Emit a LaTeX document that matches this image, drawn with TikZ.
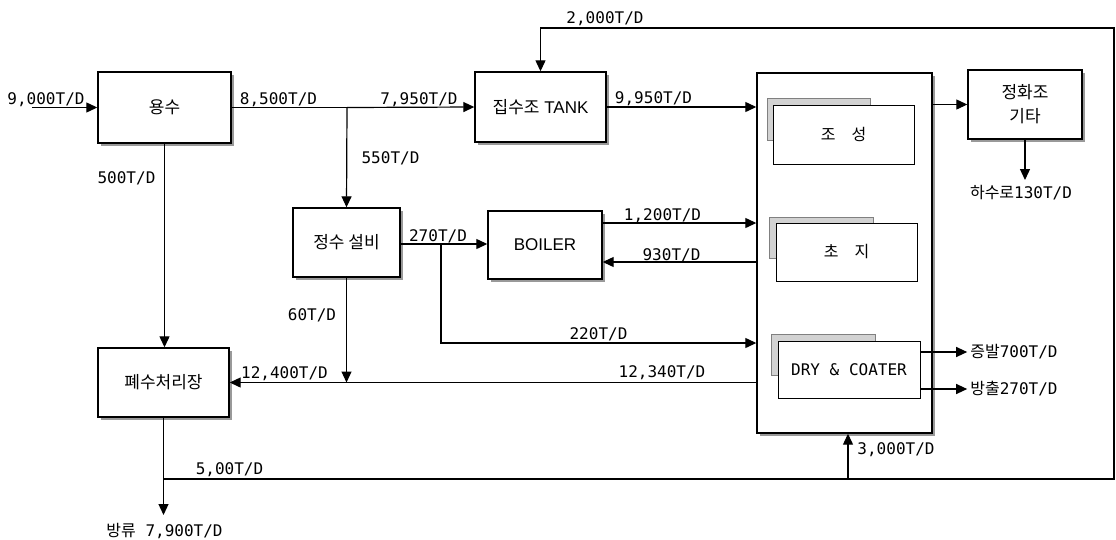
\documentclass[tikz,border=0pt]{standalone}
\usepackage{fontspec}
\setmainfont{Liberation Sans}
\setmonofont{DejaVu Sans Mono}
\newfontfamily\krfont{Noto Sans CJK KR}
\usetikzlibrary{arrows.meta, positioning, shadows}

\begin{document}
\begin{tikzpicture}[
    x=1pt, y=-1pt,
    comp/.style={rectangle, draw, line width=1.4pt, fill=white, inner sep=0pt, align=center,
        font=\fontsize{17}{24}\selectfont,
        general shadow={fill=gray!80, shadow xshift=3pt, shadow yshift=-3pt}},
    stage/.style={rectangle, draw, line width=1pt, fill=white, inner sep=0pt, font=\fontsize{16}{19}\selectfont},
    backtab/.style={draw=gray, fill=gray!35, line width=1pt},
    flow/.style={font=\ttfamily\fontsize{16}{19}\selectfont, inner sep=0pt},
    pipe/.style={line width=1.2pt},
    arrow/.style={-{Triangle[length=11pt, width=10pt]}, line width=1.2pt}
]
\useasboundingbox (0,0) rectangle (1116,539);

\node[comp, minimum width=133pt, minimum height=71pt] (yongsu) at (164.5,107.5) {\krfont 용수};
\node[comp, minimum width=131pt, minimum height=70pt] (tank) at (540.5,107) {{\krfont 집수조} TANK};
\node[comp, minimum width=107pt, minimum height=69pt] (jungsu) at (346.5,242.5) {\krfont 정수 설비};
\node[comp, minimum width=114pt, minimum height=68pt] (boiler) at (545,245) {BOILER};
\node[comp, minimum width=131pt, minimum height=69pt] (pyesu) at (163.5,382.5) {\krfont 폐수처리장};
\node[comp, minimum width=114pt, minimum height=69pt] (junghwa) at (1025,104.5) {{\krfont 정화조}\\{\krfont 기타}};
\node[comp, minimum width=175pt, minimum height=360pt] (mill) at (844.5,253) {};

\draw[backtab] (767,98) rectangle (870,140);
\draw[backtab] (769,217) rectangle (873,258);
\draw[backtab] (771,334) rectangle (875,375);
\node[stage, minimum width=141pt, minimum height=59pt] (josung) at (843.5,134.5) {\krfont 조\hspace{1em}성};
\node[stage, minimum width=141pt, minimum height=58pt] (choji) at (846.5,252) {\krfont 초\hspace{1em}지};
\node[stage, minimum width=142pt, minimum height=57pt, font=\ttfamily\fontsize{16}{19}\selectfont] (dry) at (849,369.5) {DRY \& COATER};

\coordinate (in) at (32,107.5);
\coordinate (j1) at (347,107.5);
\coordinate (j2) at (441,244);
\coordinate (j3) at (pyesu.south |- 0,479);
\coordinate (j4) at (848,479);
\coordinate (c1) at (1114,479);
\coordinate (c2) at (1114,28);
\coordinate (c3) at (tank.north |- c2);
\coordinate (b1) at ([yshift=22pt]boiler.east);
\coordinate (b2) at ([yshift=-17pt]boiler.east);
\coordinate (e220) at (mill.west |- 0,343);
\coordinate (out) at (pyesu.south |- 0,515);
\coordinate (sewer) at (junghwa.south |- 0,180);

\node[flow] (q9000) at (46,100) {9,000T/D};
\node[flow] (q8500) at (278.5,100) {8,500T/D};
\node[flow] (q7950) at (419,100) {7,950T/D};
\node[flow] (q550) at (390.5,158) {550T/D};
\node[flow] (q500) at (126.5,178) {500T/D};
\node[flow] (q2000) at (605,19) {2,000T/D};
\node[flow] (q9950) at (653.5,99) {9,950T/D};
\node[flow] (q270) at (438,236) {270T/D};
\node[flow] (q1200) at (662.5,216) {1,200T/D};
\node[flow] (q930) at (671.5,255) {930T/D};
\node[flow] (q220) at (598.5,334) {220T/D};
\node[flow] (q60) at (312,315) {60T/D};
\node[flow] (q12400) at (284.5,374) {12,400T/D};
\node[flow] (q12340) at (662,373) {12,340T/D};
\node[flow] (q3000) at (896,450) {3,000T/D};
\node[flow] (q5000) at (229.5,470) {5,00T/D};
\node[flow] (hasuro) at (1021,193) {{\krfont 하수로}130T/D};
\node[flow, inner xsep=3pt] (evap) at (1014,352) {{\krfont 증발}700T/D};
\node[flow, inner xsep=3pt] (blow) at (1014,389) {{\krfont 방출}270T/D};
\node[flow] (bangryu) at (164.5,531) {{\krfont 방류} 7,900T/D};

\draw[arrow] (in) -- (yongsu.west);
\draw[pipe] (yongsu.east) -- (j1);
\draw[arrow] (j1) -- (tank.west);
\draw[arrow] (j1) -- (jungsu.north);
\draw[arrow] (yongsu.south) -- (yongsu.south |- pyesu.north);
\draw[arrow] (tank.east) -- (tank.east -| mill.west);
\draw[arrow] (mill.east |- junghwa.west) -- (junghwa.west);
\draw[arrow] (junghwa.south) -- (sewer);
\draw[pipe] (jungsu.east |- j2) -- (j2);
\draw[arrow] (j2) -- (boiler.west |- j2);
\draw[arrow] (j2) |- (e220);
\draw[arrow] (b1) -- (b1 -| mill.west);
\draw[arrow] (b2 -| mill.west) -- (b2);
\draw[arrow] (pyesu.east -| mill.west) -- (pyesu.east);
\draw[arrow] (jungsu.south) -- (jungsu.south |- pyesu.east);
\draw[arrow] (dry.east |- evap) -- (evap.west);
\draw[arrow] (dry.east |- blow) -- (blow.west);
\draw[arrow] (pyesu.south) -- (out);
\draw[arrow] (j4) -- (j4 |- mill.south);
\draw[arrow] (j3) -- (c1) -- (c2) -- (c3) -- (tank.north);
\end{tikzpicture}
\end{document}
